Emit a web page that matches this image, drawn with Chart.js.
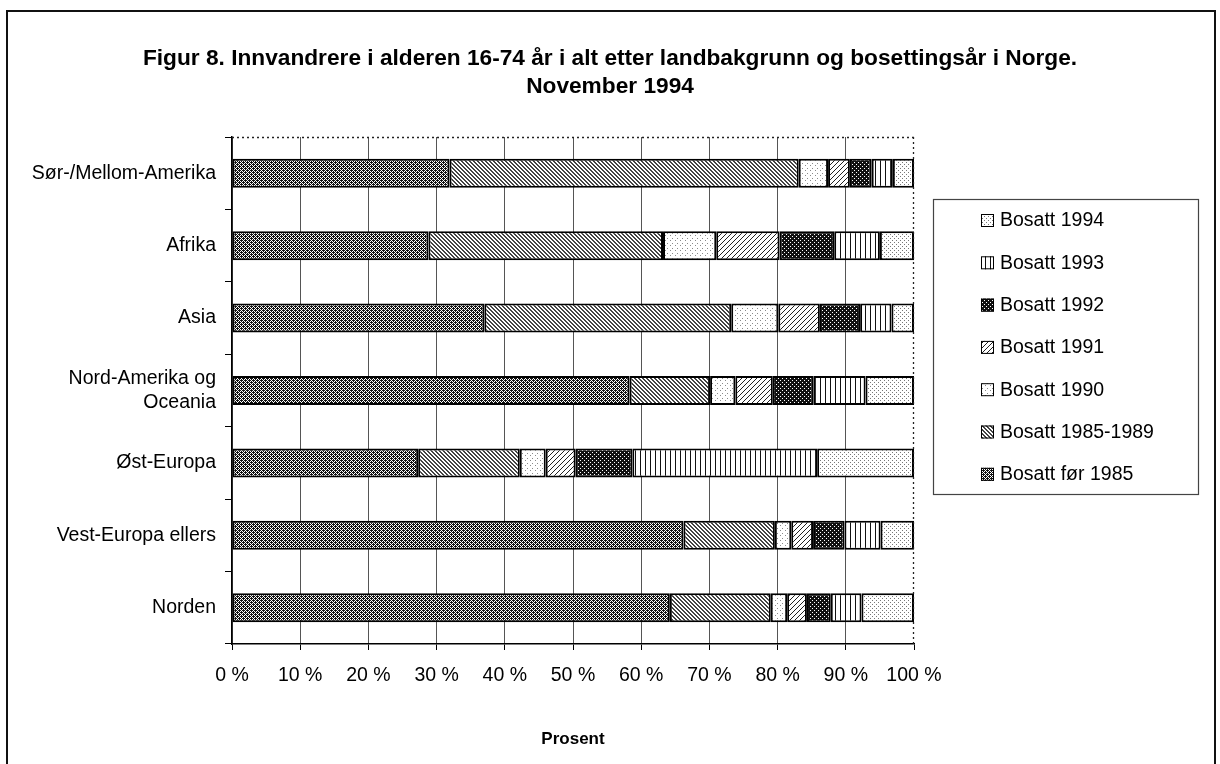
<!DOCTYPE html>
<html>
<head>
<meta charset="utf-8">
<script src="https://cdn.jsdelivr.net/npm/chart.js@4/dist/chart.umd.min.js"></script>
<style>
  html, body { margin: 0; padding: 0; background: #fff; overflow: hidden; }
  #wrap { position: relative; width: 1220px; height: 764px; }
  #frame { position: absolute; left: 6px; top: 10px; width: 1210px; height: 800px; border: 2px solid #111; box-sizing: border-box; pointer-events: none; }
  canvas { position: absolute; left: 0; top: 0; }
</style>
</head>
<body>
<div id="wrap">
  <canvas id="c" width="1220" height="764"></canvas>
  <div id="frame"></div>
</div>
<script>
// ---- Data ----
const categories = ['Sør-/Mellom-Amerika', 'Afrika', 'Asia', ['Nord-Amerika og', 'Oceania'], 'Øst-Europa', 'Vest-Europa ellers', 'Norden'];
const seriesLabels = ['Bosatt før 1985', 'Bosatt 1985-1989', 'Bosatt 1990', 'Bosatt 1991', 'Bosatt 1992', 'Bosatt 1993', 'Bosatt 1994'];
const bosattFor1985   = [31.9, 28.8, 37.0, 58.3, 27.3, 66.2, 64.2];
const bosatt1985_1989 = [51.2, 34.4, 36.2, 11.8, 14.9, 13.4, 14.8];
const bosatt1990      = [4.3, 7.8, 6.9, 3.7, 3.8, 2.4, 2.4];
const bosatt1991      = [3.2, 9.3, 6.1, 5.5, 4.4, 3.2, 2.9];
const bosatt1992      = [3.2, 8.0, 5.9, 6.0, 8.3, 4.6, 3.5];
const bosatt1993      = [3.1, 6.7, 4.6, 7.6, 27.1, 5.3, 4.5];
const bosatt1994      = [3.1, 5.0, 3.3, 7.1, 14.2, 4.9, 7.7];
const xTickLabels = ['0 %', '10 %', '20 %', '30 %', '40 %', '50 %', '60 %', '70 %', '80 %', '90 %', '100 %'];
const titleLines = ['Figur 8. Innvandrere i alderen 16-74 år i alt etter landbakgrunn og bosettingsår i Norge.', 'November 1994'];
const axisTitle = 'Prosent';

// ---- Patterns ----
const mainCtx = document.getElementById('c').getContext('2d');
function makePattern(size, pixels, color, bg) {
  const cv = document.createElement('canvas');
  cv.width = size; cv.height = size;
  const g = cv.getContext('2d');
  g.fillStyle = bg || '#fff';
  g.fillRect(0, 0, size, size);
  g.fillStyle = color;
  pixels.forEach(p => g.fillRect(p[0], p[1], 1, 1));
  return mainCtx.createPattern(cv, 'repeat');
}
const patFor = makePattern(4, [[0,0],[2,0],[1,1],[3,1],[0,2],[2,2],[1,3],[3,3],[1,0],[3,2]], '#111');
const pat8589 = makePattern(4, [[0,0],[1,1],[2,2],[3,3],[1,0],[2,1],[3,2],[0,3]], '#444');
const pat1990 = makePattern(5, [[0,0],[2,3]], '#8a8a8a');
const pat1991 = makePattern(5, [[4,0],[3,1],[2,2],[1,3],[0,4]], '#222');
const pat1992 = makePattern(4, [[0,0],[2,2]], '#fff', '#111');
const pat1993 = makePattern(5, [[0,0],[0,1],[0,2],[0,3],[0,4]], '#111');
const pat1994 = makePattern(4, [[0,0],[2,2]], '#777');

const seriesData = [bosattFor1985, bosatt1985_1989, bosatt1990, bosatt1991, bosatt1992, bosatt1993, bosatt1994];
const seriesPatterns = [patFor, pat8589, pat1990, pat1991, pat1992, pat1993, pat1994];

const FONT = "'Liberation Sans', Arial, Helvetica, sans-serif";

const frameAndLegend = {
  id: 'frameAndLegend',
  afterDraw(chart) {
    const ctx = chart.ctx;
    const a = chart.chartArea;
    ctx.save();
    // title
    ctx.fillStyle = '#000';
    ctx.font = 'bold 22.7px ' + FONT;
    ctx.textAlign = 'center';
    ctx.textBaseline = 'middle';
    ctx.fillText(titleLines[0], 610, 59);
    ctx.fillText(titleLines[1], 610, 87);
    // dotted top and right border of plot area
    ctx.strokeStyle = '#222';
    ctx.lineWidth = 1.3;
    ctx.setLineDash([2, 3]);
    ctx.beginPath();
    ctx.moveTo(a.left, a.top + 0.5);
    ctx.lineTo(a.right, a.top + 0.5);
    ctx.moveTo(a.right - 0.5, a.top);
    ctx.lineTo(a.right - 0.5, a.bottom);
    ctx.stroke();
    ctx.setLineDash([]);
    // legend box
    const bx = 933, by = 199, bw = 265, bh = 295;
    ctx.strokeStyle = '#444';
    ctx.lineWidth = 1.2;
    ctx.strokeRect(bx + 0.5, by + 0.5, bw, bh);
    const ds = chart.data.datasets;
    const n = ds.length;
    ctx.font = '19.5px ' + FONT;
    ctx.textBaseline = 'middle';
    ctx.textAlign = 'left';
    for (let i = 0; i < n; i++) {
      const d = ds[n - 1 - i];
      const cy = 220 + i * 42.3;
      ctx.fillStyle = d.backgroundColor;
      ctx.fillRect(981, cy - 6, 13, 13);
      ctx.strokeStyle = '#000';
      ctx.lineWidth = 1;
      ctx.strokeRect(981.5, cy - 5.5, 12, 12);
      ctx.fillStyle = '#000';
      ctx.fillText(d.label, 1000, cy + 1);
    }
    ctx.restore();
  }
};

new Chart(mainCtx, {
  type: 'bar',
  data: {
    labels: categories,
    datasets: seriesLabels.map((lab, i) => ({
      label: lab,
      data: seriesData[i],
      backgroundColor: seriesPatterns[i],
      borderColor: '#000',
      borderWidth: 2,
      borderSkipped: false,
      barPercentage: 0.4,
      categoryPercentage: 1.0
    }))
  },
  options: {
    indexAxis: 'y',
    responsive: false,
    animation: false,
    devicePixelRatio: 1,
    layout: { padding: { left: 0, right: 306, top: 137, bottom: 0 } },
    plugins: {
      legend: { display: false },
      tooltip: { enabled: false },
      title: { display: false }
    },
    scales: {
      x: {
        stacked: true,
        min: 0,
        max: 100,
        afterFit: (s) => { s.height = 120; },
        ticks: {
          stepSize: 10,
          color: '#000',
          padding: 14,
          font: { family: FONT, size: 19.5 },
          callback: (v, idx) => xTickLabels[idx]
        },
        grid: {
          color: (c) => (c.tick && c.tick.value === 100) ? 'rgba(0,0,0,0)' : '#555',
          lineWidth: 1,
          drawTicks: true,
          tickLength: 6,
          tickColor: '#000'
        },
        border: { display: true, color: '#000', width: 1.5 },
        title: {
          display: true,
          text: axisTitle,
          color: '#000',
          font: { family: FONT, size: 17, weight: 'bold' },
          padding: { top: 0, bottom: 14 }
        }
      },
      y: {
        stacked: true,
        afterFit: (s) => { s.width = 232; },
        ticks: {
          color: '#000',
          padding: 9,
          font: { family: FONT, size: 19.5, lineHeight: 1.25 }
        },
        grid: {
          offset: true,
          drawOnChartArea: false,
          drawTicks: true,
          tickLength: 7,
          tickColor: '#000'
        },
        border: { display: true, color: '#000', width: 1.5 }
      }
    }
  },
  plugins: [frameAndLegend]
});
</script>
</body>
</html>
